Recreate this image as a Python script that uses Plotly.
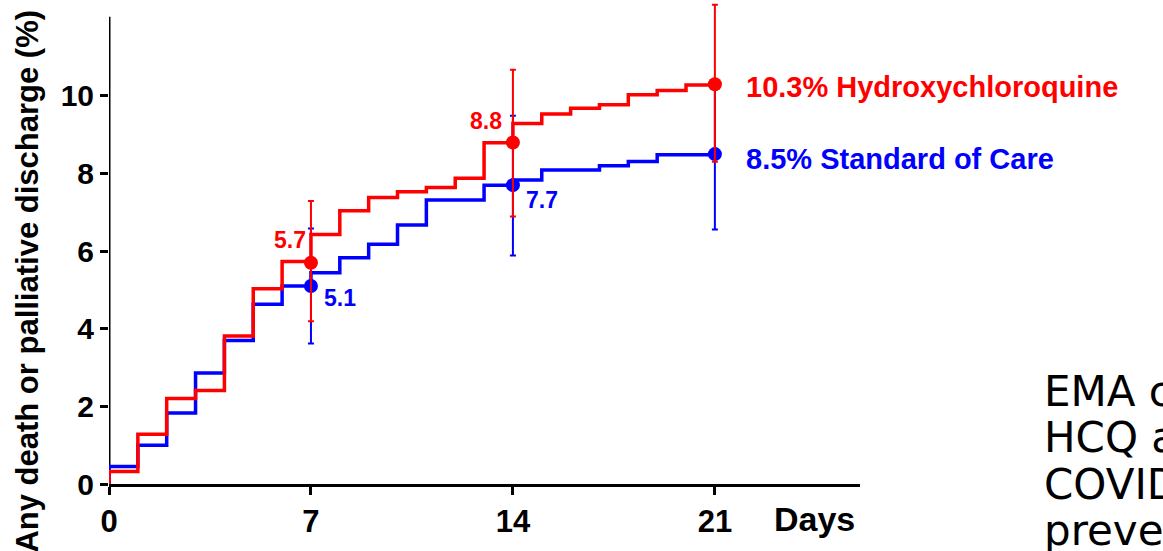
import plotly.graph_objects as go

# ---- data ----
days = list(range(0, 22))
hcq_steps = [0.32, 1.28, 2.20, 2.41, 3.81, 5.03, 5.73, 6.43, 7.04, 7.38, 7.53,
             7.64, 7.88, 8.79, 9.29, 9.53, 9.68, 9.77, 10.03, 10.14, 10.28]
soc_steps = [0.45, 1.00, 1.83, 2.86, 3.70, 4.63, 5.10, 5.44, 5.83, 6.18, 6.67,
             7.32, 7.32, 7.70, 7.83, 8.09, 8.09, 8.20, 8.31, 8.48, 8.48]
mark_days = [7, 14, 21]
hcq_marks = [5.7, 8.8, 10.3]
soc_marks = [5.1, 7.7, 8.5]
hcq_ci_lo = [4.19, 6.89, 8.30]
hcq_ci_hi = [7.29, 10.67, 12.35]
soc_ci_lo = [3.62, 5.89, 6.56]
soc_ci_hi = [6.58, 9.49, 10.40]
hcq_label = "10.3% Hydroxychloroquine"
soc_label = "8.5% Standard of Care"
x_ticks = [0, 7, 14, 21]
y_ticks = [0, 2, 4, 6, 8, 10]
side_text = ["EMA cautions about", "HCQ and chloroquine", "COVID-19 treatment", "prevention"]

RED = "#ff0000"
BLUE = "#0000ff"
FONT = "Liberation Sans, Arial, Helvetica, sans-serif"


def step_xy(steps):
    xs = [days[0]] + days
    ys = [0] + steps + [steps[-1]]
    return xs, ys


fig = go.Figure()

for steps, color in [(soc_steps, BLUE), (hcq_steps, RED)]:
    xs, ys = step_xy(steps)
    fig.add_trace(go.Scatter(x=xs, y=ys, mode="lines", line_shape="hv",
                             line=dict(color=color, width=3.5),
                             hoverinfo="skip", showlegend=False))

for marks, lo, hi, color in [(soc_marks, soc_ci_lo, soc_ci_hi, BLUE),
                             (hcq_marks, hcq_ci_lo, hcq_ci_hi, RED)]:
    fig.add_trace(go.Scatter(
        x=mark_days, y=marks, mode="markers",
        marker=dict(color=color, size=14),
        error_y=dict(type="data", symmetric=False,
                     array=[h - m for h, m in zip(hi, marks)],
                     arrayminus=[m - l for l, m in zip(lo, marks)],
                     color=color, thickness=2, width=3),
        cliponaxis=False, showlegend=False, hoverinfo="skip"))

ann = []
# numeric point labels
ann.append(dict(x=mark_days[0], y=6.28, text="<b>%.1f</b>" % hcq_marks[0], xanchor="right",
                xshift=-3, font=dict(color=RED, size=23, family=FONT)))
ann.append(dict(x=mark_days[0], y=4.80, text="<b>%.1f</b>" % soc_marks[0], xanchor="left",
                xshift=11, font=dict(color=BLUE, size=23, family=FONT)))
ann.append(dict(x=mark_days[1], y=9.35, text="<b>%.1f</b>" % hcq_marks[1], xanchor="right",
                xshift=-9, font=dict(color=RED, size=23, family=FONT)))
ann.append(dict(x=mark_days[1], y=7.31, text="<b>%.1f</b>" % soc_marks[1], xanchor="left",
                xshift=11, font=dict(color=BLUE, size=23, family=FONT)))
# series labels
ann.append(dict(x=mark_days[2], y=10.23, text="<b>" + hcq_label + "</b>", xanchor="left",
                xshift=29, font=dict(color=RED, size=29, family=FONT)))
ann.append(dict(x=mark_days[2], y=8.37, text="<b>" + soc_label + "</b>", xanchor="left",
                xshift=29, font=dict(color=BLUE, size=29, family=FONT)))
# axis titles
ann.append(dict(x=26, xref="x", y=-0.072, yref="paper", text="<b>Days</b>", xanchor="right",
                yanchor="middle", xshift=-2, font=dict(color="black", size=34, family=FONT)))
ann.append(dict(x=-0.108, xref="paper", y=0.42, yref="paper", textangle=-90,
                text="<b>Any death or palliative discharge (%)</b>", xanchor="center",
                yanchor="middle", font=dict(color="black", size=31, family=FONT)))
# cropped slide text on the right
for i, line in enumerate(side_text):
    ann.append(dict(x=(1042 - 109) / 751, xref="paper", y=(484 - (391 + 46.5 * i)) / 484,
                    yref="paper", text=line, xanchor="left", yanchor="middle",
                    font=dict(color="black", size=42, family="DejaVu Sans, Verdana, sans-serif")))

for a in ann:
    a.setdefault("xref", "x")
    a.setdefault("yref", "y")
    a["showarrow"] = False

fig.update_layout(
    width=1163, height=551,
    margin=dict(l=109, r=303, t=0, b=67, pad=0),
    paper_bgcolor="white", plot_bgcolor="white",
    annotations=ann,
    shapes=[dict(type="line", xref="x", yref="y", x0=0, x1=0, y0=0, y1=12.04,
                 line=dict(color="black", width=3), layer="below")],
    xaxis=dict(range=[0, 26.03], tickvals=x_ticks, ticktext=[str(v) for v in x_ticks],
               showgrid=False, zeroline=False, showline=True, linecolor="black", linewidth=3,
               ticks="outside", ticklen=8, tickwidth=3, tickcolor="black",
               tickfont=dict(size=31, color="black", family=FONT, weight="bold"),
               layer="below traces", fixedrange=True),
    yaxis=dict(range=[0, 12.47], tickvals=y_ticks, ticktext=[str(v) for v in y_ticks],
               showgrid=False, zeroline=False, showline=False,
               ticks="outside", ticklen=8, tickwidth=3, tickcolor="black",
               tickfont=dict(size=30, color="black", family=FONT, weight="bold"),
               layer="below traces", fixedrange=True),
)

fig.write_html("out.html", config={"displayModeBar": False},
               post_script="document.body.style.margin='0px';document.body.style.overflow='hidden';")
